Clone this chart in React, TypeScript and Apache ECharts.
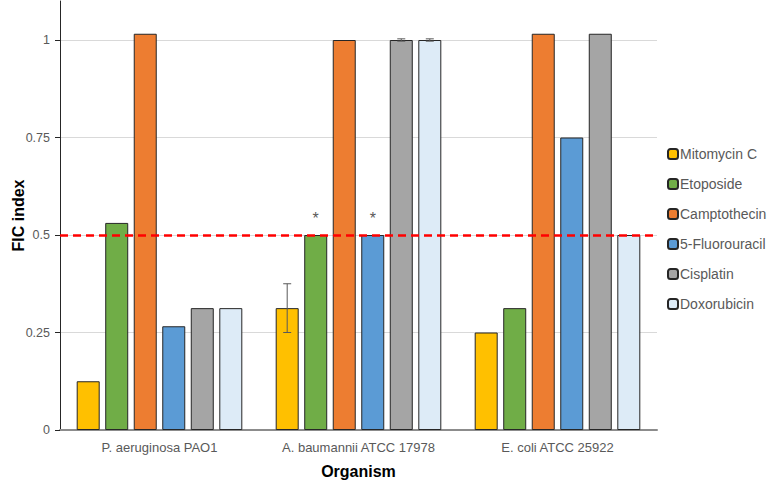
import React, { useEffect, useRef } from "react";
import * as echarts from "echarts";

const organisms = ["P. aeruginosa PAO1", "A. baumannii ATCC 17978", "E. coli ATCC 25922"];
const drugs = ["Mitomycin C", "Etoposide", "Camptothecin", "5-Fluorouracil", "Cisplatin", "Doxorubicin"];
const colors = ["#FFC000", "#70AD47", "#ED7D31", "#5B9BD5", "#A5A5A5", "#DDEBF7"];

const mitomycin = [0.125, 0.3125, 0.25];
const etoposide = [0.531, 0.5, 0.3125];
const camptothecin = [1.016, 1.0, 1.016];
const fluorouracil = [0.266, 0.5, 0.75];
const cisplatin = [0.3125, 1.0, 1.016];
const doxorubicin = [0.3125, 1.0, 0.5];

const mitomycinErr = [0, 0.0625, 0];
const cisplatinErr = [0, 0.003, 0];
const doxorubicinErr = [0, 0.003, 0];

// asterisks: [seriesIndex, categoryIndex]
const starred = [[1, 1], [3, 1]];

const threshold = 0.5;
const yTicks = { min: 0, max: 1.1, interval: 0.25 };

export default function App() {
  const ref = useRef<HTMLDivElement>(null);
  useEffect(() => {
    const chart = echarts.init(ref.current!, null, { renderer: "svg" });
    const values = [mitomycin, etoposide, camptothecin, fluorouracil, cisplatin, doxorubicin];
    const errs: (number[] | null)[] = [mitomycinErr, null, null, null, cisplatinErr, doxorubicinErr];
    const barWidth = 23;
    const barGap = 0.24;
    const step = barWidth * (1 + barGap);

    const errData: number[][] = [];
    errs.forEach((e, si) => {
      if (!e) return;
      e.forEach((d, ci) => {
        if (d > 0) errData.push([ci, si, values[si][ci] - d, values[si][ci] + d]);
      });
    });

    const font = "Liberation Sans, Arial, sans-serif";
    const series: any[] = values.map((vals, si) => ({
      name: drugs[si],
      type: "bar",
      barWidth,
      barGap: barGap * 100 + "%",
      itemStyle: { color: colors[si], borderColor: "#262626", borderWidth: 1 },
      data: vals.map((v, ci) => {
        const isStar = starred.some(([s, c]) => s === si && c === ci);
        return isStar
          ? { value: v, label: { show: true, position: "top", formatter: "*", distance: 9, color: "#595959", fontSize: 16, fontFamily: font } }
          : v;
      }),
      ...(si === 0
        ? {
            markLine: {
              silent: true,
              symbol: "none",
              label: { show: false },
              lineStyle: { color: "#FF0000", type: [8, 5], width: 2.5 },
              data: [{ yAxis: threshold }],
            },
          }
        : {}),
    }));

    series.push({
      type: "custom",
      name: "err",
      z: 10,
      encode: { x: 0, y: [2, 3] },
      renderItem: (params: any, api: any) => {
        const ci = api.value(0);
        const si = api.value(1);
        const lo = api.coord([ci, api.value(2)]);
        const hi = api.coord([ci, api.value(3)]);
        const x = lo[0] + (si - 2.5) * step;
        const cap = 4;
        const style = { stroke: "#595959", lineWidth: 1 };
        return {
          type: "group",
          children: [
            { type: "line", shape: { x1: x, y1: lo[1], x2: x, y2: hi[1] }, style },
            { type: "line", shape: { x1: x - cap, y1: lo[1], x2: x + cap, y2: lo[1] }, style },
            { type: "line", shape: { x1: x - cap, y1: hi[1], x2: x + cap, y2: hi[1] }, style },
          ],
        };
      },
      data: errData,
    });

    chart.setOption({
      animation: false,
      textStyle: { fontFamily: font },
      grid: { left: 60, right: 113, top: 1, bottom: 53, outerBoundsMode: "none" },
      legend: {
        orient: "vertical",
        left: 662,
        top: 142,
        itemWidth: 10,
        itemHeight: 10,
        itemGap: 16,
        data: drugs,
        textStyle: { color: "#595959", fontSize: 14, fontFamily: font, padding: [0, 0, 0, -3] },
      },
      xAxis: {
        type: "category",
        data: organisms,
        name: "Organism",
        nameLocation: "middle",
        nameGap: 33,
        nameMoveOverlap: false,
        nameTextStyle: { color: "#000", fontSize: 16, fontWeight: "bold", fontFamily: font },
        axisLine: { lineStyle: { color: "#8c8c8c", width: 2 } },
        axisTick: { show: false },
        axisLabel: { color: "#595959", fontSize: 13, margin: 11, interval: 0, fontFamily: font },
      },
      yAxis: {
        type: "value",
        min: yTicks.min,
        max: yTicks.max,
        interval: yTicks.interval,
        name: "FIC index",
        nameLocation: "middle",
        nameGap: 34,
        nameMoveOverlap: false,
        nameTextStyle: { color: "#000", fontSize: 16, fontWeight: "bold", fontFamily: font },
        axisLine: { show: true, lineStyle: { color: "#262626", width: 1 } },
        axisTick: { show: true, length: 5, lineStyle: { color: "#262626" } },
        axisLabel: { color: "#595959", fontSize: 12.5, showMaxLabel: false, margin: 10, fontFamily: font },
        splitLine: { show: true, showMaxLine: false, lineStyle: { color: "#d9d9d9", width: 1 } },
      },
      series,
    });
    return () => chart.dispose();
  }, []);
  return <div ref={ref} style={{ position: "absolute", left: 0, top: 0, width: 770, height: 483 }} />;
}
